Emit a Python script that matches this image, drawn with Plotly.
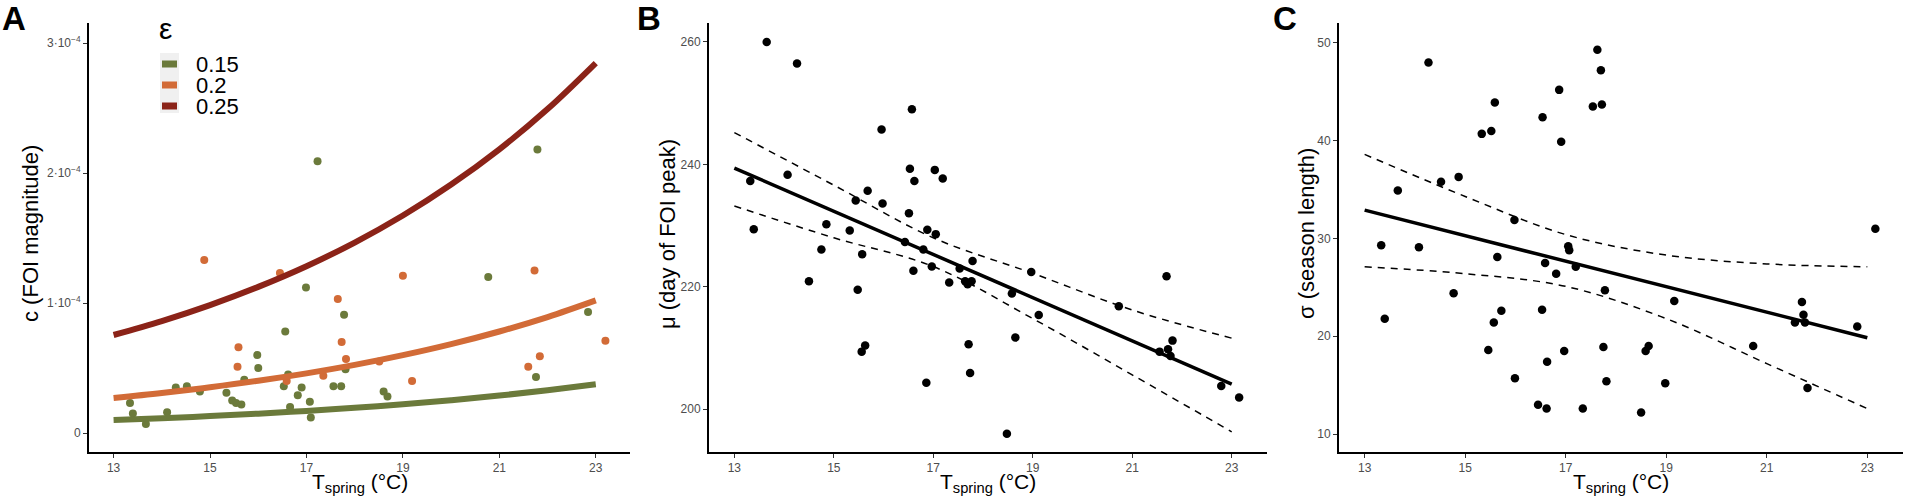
import numpy as np
import plotly.graph_objects as go

# ---- data ----
# panel A: c (FOI magnitude), values in units of 1e-4
t_curve = [13, 14, 15, 16, 17, 18, 19, 20, 21, 22, 23]
c_fit_015 = [0.100, 0.114, 0.130, 0.149, 0.170, 0.194, 0.221, 0.252, 0.288, 0.329, 0.375]
c_fit_020 = [0.270, 0.308, 0.352, 0.402, 0.459, 0.524, 0.599, 0.684, 0.781, 0.892, 1.020]
c_fit_025 = [0.754, 0.861, 0.984, 1.124, 1.283, 1.465, 1.673, 1.911, 2.182, 2.492, 2.846]

t_pts_015 = [13.34, 13.40, 13.67, 14.11, 14.29, 14.52, 14.79, 15.34, 15.46, 15.54,
             15.65, 15.71, 15.98, 16.00, 16.53, 16.56, 16.62, 16.66, 16.82, 16.90,
             16.99, 17.07, 17.09, 17.23, 17.56, 17.72, 17.78, 17.81, 18.60, 18.68,
             20.77, 21.76, 21.79, 22.84]
c_pts_015 = [0.23, 0.15, 0.07, 0.16, 0.35, 0.36, 0.32, 0.31, 0.25, 0.23,
             0.22, 0.41, 0.60, 0.50, 0.36, 0.78, 0.45, 0.20, 0.29, 0.35,
             1.12, 0.24, 0.12, 2.09, 0.36, 0.36, 0.91, 0.49, 0.32, 0.28,
             1.20, 0.43, 2.18, 0.93]
t_pts_020 = [14.88, 15.57, 15.59, 16.45, 16.59, 17.35, 17.65, 17.73, 17.82, 18.51,
             19.00, 19.19, 21.60, 21.73, 21.84, 23.20]
c_pts_020 = [1.33, 0.51, 0.66, 1.23, 0.40, 0.44, 1.03, 0.70, 0.57, 0.55,
             1.21, 0.40, 0.51, 1.25, 0.59, 0.71]

# panel B: mu (day of FOI peak)
t_b = [13.65, 14.26, 16.57, 15.96, 13.32, 14.07, 16.53, 16.62, 17.03, 17.19,
       15.68, 15.44, 15.98, 16.51, 16.88, 17.05, 13.39, 14.85, 15.32, 16.43,
       16.80, 14.75, 15.57, 14.50, 15.48, 16.60, 16.97, 17.32, 17.53, 17.64,
       17.69, 17.77, 17.79, 18.97, 18.58, 19.12, 18.65, 17.71, 15.63, 15.56,
       17.74, 16.86, 18.48, 21.69, 20.73, 21.81, 21.72, 21.55, 21.77, 22.79,
       23.15]
mu_b = [260.0, 256.5, 249.0, 245.7, 237.3, 238.3, 239.3, 237.3, 239.1, 237.7,
        235.7, 234.1, 233.6, 232.0, 229.3, 228.6, 229.4, 230.2, 229.2, 227.3,
        226.1, 226.1, 225.3, 220.9, 219.5, 222.6, 223.3, 220.7, 223.0, 220.9,
        220.4, 220.9, 224.2, 222.4, 218.9, 215.4, 211.7, 210.6, 210.4, 209.4,
        205.9, 204.3, 196.0, 221.7, 216.8, 211.2, 209.8, 209.4, 208.7, 203.8,
        201.9]
t_b_fit = [13, 23]
mu_fit = [239.4, 204.1]
t_ci = [13, 15, 17, 19, 21, 23]
mu_upper = [245.2, 236.6, 228.0, 222.2, 216.2, 211.6]
mu_lower = [233.2, 228.0, 223.3, 214.8, 205.6, 196.3]

# panel C: sigma (season length)
t_c = [14.27, 13.66, 14.52, 14.87, 13.33, 14.08, 13.40, 14.77, 17.63, 17.70,
       16.87, 17.54, 17.72, 15.59, 16.54, 15.33, 15.52, 16.91, 15.98, 17.05,
       17.07, 15.64, 16.59, 17.20, 16.81, 17.78, 19.16, 15.72, 16.53, 15.57,
       15.46, 16.97, 17.75, 18.59, 18.65, 16.63, 15.99, 17.81, 18.98, 16.45,
       16.62, 17.34, 18.50, 20.73, 21.70, 21.73, 21.56, 21.76, 21.81, 22.80,
       23.16]
sigma_c = [48.0, 34.9, 35.8, 36.3, 29.3, 29.1, 21.8, 24.4, 49.3, 47.2,
           45.2, 43.5, 43.7, 43.9, 42.4, 40.7, 41.0, 39.9, 31.9, 29.2,
           28.8, 28.1, 27.5, 27.1, 26.4, 24.7, 23.6, 22.6, 22.7, 21.4,
           18.6, 18.5, 18.9, 18.5, 19.0, 17.4, 15.7, 15.4, 15.2, 13.0,
           12.6, 12.6, 12.2, 19.0, 23.5, 22.2, 21.4, 21.4, 14.7, 21.0,
           31.0]
t_c_fit = [13, 23]
sigma_fit = [32.9, 19.85]
sigma_upper = [38.6, 34.3, 30.4, 28.3, 27.4, 27.1]
sigma_lower = [27.1, 26.4, 25.1, 21.8, 17.2, 12.6]

eps_labels = ["0.15", "0.2", "0.25"]
x_ticks = [13, 15, 17, 19, 21, 23]

green = "#6b7a3b"
orange = "#d26b37"
red = "#8b2318"
FONT = "Liberation Sans, Arial, sans-serif"

W, H = 1907, 499


def px(v):
    return v / W


def py(v):
    return 1 - v / H


fig = go.Figure()

# panel A points
fig.add_trace(go.Scatter(x=t_pts_015, y=np.array(c_pts_015) * 1e-4, mode="markers",
                         marker=dict(color=green, size=8), showlegend=False,
                         xaxis="x", yaxis="y"))
fig.add_trace(go.Scatter(x=t_pts_020, y=np.array(c_pts_020) * 1e-4, mode="markers",
                         marker=dict(color=orange, size=8), showlegend=False,
                         xaxis="x", yaxis="y"))
# panel A fitted curves
for lab, vals, col in zip(eps_labels, [c_fit_015, c_fit_020, c_fit_025], [green, orange, red]):
    fig.add_trace(go.Scatter(x=t_curve, y=np.array(vals) * 1e-4, mode="lines", name=lab,
                             line=dict(color=col, width=6, shape="spline"),
                             showlegend=False, xaxis="x", yaxis="y"))

# panel B
fig.add_trace(go.Scatter(x=t_b, y=mu_b, mode="markers", marker=dict(color="black", size=8.5),
                         showlegend=False, xaxis="x2", yaxis="y2"))
for vals in [mu_upper, mu_lower]:
    fig.add_trace(go.Scatter(x=t_ci, y=vals, mode="lines", showlegend=False,
                             line=dict(color="black", width=1.5, dash="7px,6px", shape="spline"),
                             xaxis="x2", yaxis="y2"))
fig.add_trace(go.Scatter(x=t_b_fit, y=mu_fit, mode="lines", showlegend=False,
                         line=dict(color="black", width=3.5), xaxis="x2", yaxis="y2"))

# panel C
fig.add_trace(go.Scatter(x=t_c, y=sigma_c, mode="markers", marker=dict(color="black", size=8.5),
                         showlegend=False, xaxis="x3", yaxis="y3"))
for vals in [sigma_upper, sigma_lower]:
    fig.add_trace(go.Scatter(x=t_ci, y=vals, mode="lines", showlegend=False,
                             line=dict(color="black", width=1.5, dash="7px,6px", shape="spline"),
                             xaxis="x3", yaxis="y3"))
fig.add_trace(go.Scatter(x=t_c_fit, y=sigma_fit, mode="lines", showlegend=False,
                         line=dict(color="black", width=3.5), xaxis="x3", yaxis="y3"))

tick_font = dict(family=FONT, size=12, color="#4d4d4d")
axis_common = dict(showline=True, linecolor="black", linewidth=2, showgrid=False,
                   zeroline=False, ticks="outside", ticklen=4, tickcolor="#333333",
                   tickwidth=1, tickfont=tick_font)

xdom = {"": [89, 630], "2": [709, 1267], "3": [1339, 1903]}
ydom = [py(452), py(23)]

layout = dict(
    width=W, height=H,
    margin=dict(l=0, r=0, t=0, b=0),
    paper_bgcolor="white", plot_bgcolor="white",
    font=dict(family=FONT, color="black"),
    showlegend=False,
)
yaxes = {"": [-0.146e-4, 3.154e-4], "2": [193.0, 263.1], "3": [8.16, 52.04]}
for k, xd in xdom.items():
    layout["xaxis" + k] = dict(axis_common, domain=[px(xd[0]), px(xd[1])], range=[12.49, 23.71],
                               tickvals=x_ticks, anchor="y" + k)
    layout["yaxis" + k] = dict(axis_common, domain=ydom, range=yaxes[k], anchor="x" + k)

layout["yaxis"].update(tickvals=[0, 1e-4, 2e-4, 3e-4],
                       ticktext=["0", "1·10<sup>−4</sup>", "2·10<sup>−4</sup>", "3·10<sup>−4</sup>"])
layout["yaxis2"].update(tickvals=[200, 220, 240, 260])
layout["yaxis3"].update(tickvals=[10, 20, 30, 40, 50])

fig.update_layout(**layout)

annos = []
for lab, cx in [("A", 14), ("B", 649), ("C", 1285)]:
    annos.append(dict(text="<b>" + lab + "</b>", x=px(cx), y=py(18), xref="paper", yref="paper",
                      showarrow=False, font=dict(size=33, family=FONT, color="black"),
                      xanchor="center", yanchor="middle"))
for k, xd in xdom.items():
    annos.append(dict(text="T<sub>spring</sub> (°C)", x=px((xd[0] + xd[1]) / 2), y=py(483),
                      xref="paper", yref="paper", showarrow=False,
                      font=dict(size=21, family=FONT, color="black"),
                      xanchor="center", yanchor="middle"))
for txt, cx in [("c (FOI magnitude)", 30), ("μ (day of FOI peak)", 667), ("σ (season length)", 1306)]:
    annos.append(dict(text=txt, x=px(cx), y=py(234), xref="paper", yref="paper",
                      showarrow=False, textangle=-90,
                      font=dict(size=22, family=FONT, color="black"),
                      xanchor="center", yanchor="middle"))

# legend for epsilon, drawn like the ggplot key
annos.append(dict(text="ε", x=px(157), y=py(29), xref="paper", yref="paper", showarrow=False,
                  font=dict(size=30, family=FONT, color="black"), xanchor="left", yanchor="middle"))
fig.add_shape(type="rect", xref="paper", yref="paper", x0=px(160), x1=px(179),
              y0=py(113), y1=py(53), fillcolor="#f0f0f0", line=dict(width=0), layer="below")
for i, (lab, col) in enumerate(zip(eps_labels, [green, orange, red])):
    yc = 64 + i * 21
    fig.add_shape(type="rect", xref="paper", yref="paper", x0=px(162), x1=px(177),
                  y0=py(yc + 3.5), y1=py(yc - 3.5), fillcolor=col, line=dict(width=0))
    annos.append(dict(text=lab, x=px(194), y=py(yc), xref="paper", yref="paper", showarrow=False,
                      font=dict(size=22, family=FONT, color="black"),
                      xanchor="left", yanchor="middle"))

fig.update_layout(annotations=annos)

# the page body has a default margin; drop it so the figure sits at the top-left corner
fig.write_html("out.html", config={"displayModeBar": False},
               post_script="document.body.style.margin='0';")
